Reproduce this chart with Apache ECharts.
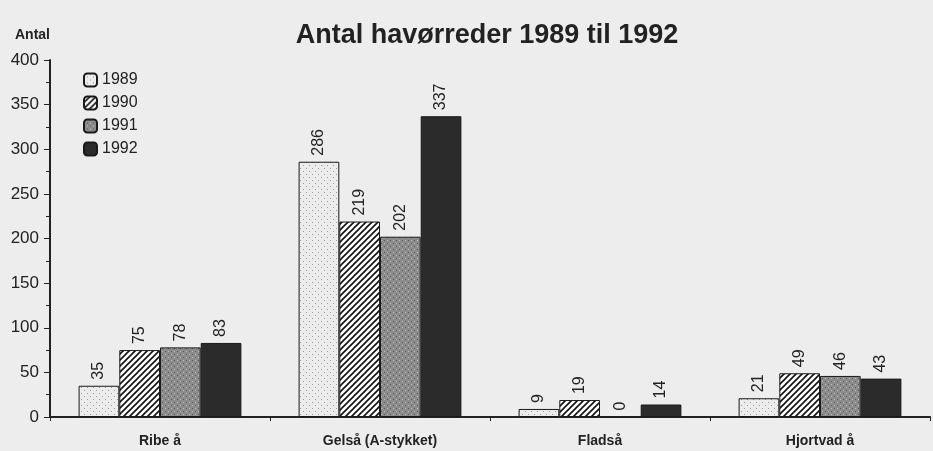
<!DOCTYPE html>
<html lang="da">
<head>
<meta charset="UTF-8">
<title>Antal havørreder</title>
<script src="https://cdn.jsdelivr.net/npm/echarts@6.0.0/dist/echarts.min.js"></script>
<style>
  html, body { margin: 0; padding: 0; background: #ededed; }
  #chart { width: 933px; height: 451px; }
</style>
</head>
<body>
<div id="chart"></div>
<script>
const categories = ['Ribe å', 'Gelså (A-stykket)', 'Fladså', 'Hjortvad å'];
const years = ['1989', '1990', '1991', '1992'];
const v1989 = [35, 286, 9, 21];
const v1990 = [75, 219, 19, 49];
const v1991 = [78, 202, 0, 46];
const v1992 = [83, 337, 14, 43];
const yTicks = [0, 50, 100, 150, 200, 250, 300, 350, 400];

// small canvas patterns to mimic the printed fills
function makePattern(kind) {
    const c = document.createElement('canvas');
    c.width = 6; c.height = 6;
    const g = c.getContext('2d');
    if (kind === 'light') {
        g.fillStyle = '#ececec'; g.fillRect(0, 0, 6, 6);
        g.fillStyle = '#9a9a9a';
        g.fillRect(0, 0, 1, 1); g.fillRect(3, 3, 1, 1);
    } else if (kind === 'hatch') {
        g.fillStyle = '#ffffff'; g.fillRect(0, 0, 6, 6);
        g.strokeStyle = '#111'; g.lineWidth = 1.6;
        g.beginPath();
        g.moveTo(-1, 7); g.lineTo(7, -1);
        g.moveTo(-1, 1); g.lineTo(1, -1);
        g.moveTo(5, 7); g.lineTo(7, 5);
        g.stroke();
    } else if (kind === 'mid') {
        g.fillStyle = '#8c8c8c'; g.fillRect(0, 0, 6, 6);
        g.fillStyle = '#555';
        g.fillRect(0, 0, 1, 1); g.fillRect(3, 3, 1, 1);
        g.fillStyle = '#bdbdbd';
        g.fillRect(3, 0, 1, 1); g.fillRect(0, 3, 1, 1);
    } else {
        g.fillStyle = '#2b2b2b'; g.fillRect(0, 0, 6, 6);
    }
    return { image: c, repeat: 'repeat' };
}

const fills = [makePattern('light'), makePattern('hatch'), makePattern('mid'), makePattern('dark')];
const values = [v1989, v1990, v1991, v1992];

const chart = echarts.init(document.getElementById('chart'));
chart.setOption({
    backgroundColor: '#ededed',
    animation: false,
    title: {
        text: 'Antal havørreder 1989 til 1992',
        left: 482, top: 17, textAlign: 'center',
        textStyle: { fontFamily: 'Liberation Sans', fontWeight: 'bold', fontSize: 27, color: '#222' }
    },
    legend: {
        data: years,
        orient: 'vertical',
        left: 78, top: 67,
        itemWidth: 13, itemHeight: 13, itemGap: 7,
        textStyle: { fontFamily: 'Liberation Sans', fontSize: 16, color: '#222' }
    },
    grid: { left: 50, right: 3, top: 60, bottom: 34 },
    xAxis: {
        type: 'category',
        data: categories,
        axisLine: { lineStyle: { color: '#222', width: 2 } },
        axisTick: { show: true, length: 4, lineStyle: { color: '#222' } },
        axisLabel: {
            margin: 17,
            fontFamily: 'Liberation Sans', fontWeight: 'bold', fontSize: 14, color: '#222'
        }
    },
    yAxis: {
        type: 'value',
        min: 0, max: 400, interval: 50,
        name: 'Antal',
        nameLocation: 'end',
        nameGap: 18,
        nameTextStyle: { fontFamily: 'Liberation Sans', fontWeight: 'bold', fontSize: 14, color: '#222', align: 'right' },
        axisLine: { show: true, lineStyle: { color: '#222', width: 2 } },
        axisTick: { show: true, length: 6, lineStyle: { color: '#222' } },
        minorTick: { show: true, splitNumber: 2, length: 4, lineStyle: { color: '#222' } },
        splitLine: { show: false },
        axisLabel: {
            margin: 11,
            fontFamily: 'Liberation Sans', fontSize: 17, color: '#222',
            formatter: v => yTicks.includes(v) ? String(v) : ''
        }
    },
    series: years.map((y, i) => ({
        name: y,
        type: 'bar',
        data: values[i],
        barGap: '0%',
        barCategoryGap: '26%',
        itemStyle: { color: fills[i], borderColor: '#1a1a1a', borderWidth: 1 },
        label: {
            show: true,
            position: 'top',
            rotate: 90,
            align: 'left',
            verticalAlign: 'middle',
            distance: 6,
            fontFamily: 'Liberation Sans', fontSize: 16, color: '#222'
        }
    }))
});
</script>
</body>
</html>
